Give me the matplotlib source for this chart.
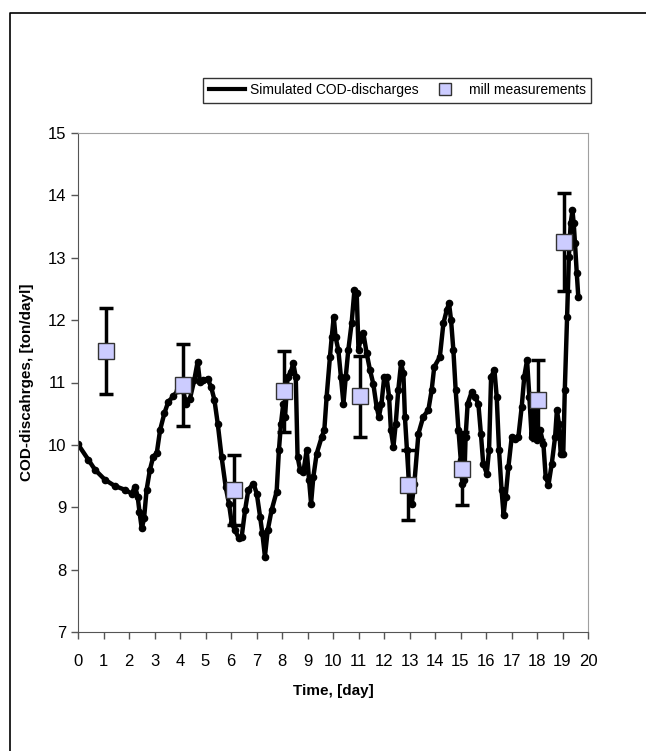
import matplotlib
matplotlib.use("Agg")
import matplotlib.pyplot as plt
from matplotlib.lines import Line2D

plt.rcParams["font.family"] = ["Liberation Sans", "DejaVu Sans"]

# simulated COD discharge (day, ton/day)
sim_t = [0.0, 0.41, 0.67, 1.06, 1.45, 1.84, 2.10, 2.24, 2.34, 2.41, 2.50, 2.59, 2.69, 2.82, 2.95,
         3.09, 3.22, 3.39, 3.54, 3.74, 3.93, 4.09, 4.24, 4.39, 4.56, 4.69, 4.78, 4.92, 5.08, 5.22,
         5.35, 5.48, 5.63, 5.79, 5.92, 6.03, 6.16, 6.31, 6.42, 6.55, 6.68, 6.88, 7.01, 7.14, 7.23,
         7.33, 7.44, 7.59, 7.79, 7.88, 7.96, 8.05, 8.12, 8.22, 8.35, 8.44, 8.54, 8.61, 8.71, 8.84,
         8.97, 9.06, 9.14, 9.23, 9.36, 9.56, 9.66, 9.75, 9.88, 9.95, 10.03, 10.10, 10.21, 10.31,
         10.41, 10.50, 10.60, 10.73, 10.84, 10.93, 11.00, 11.07, 11.19, 11.32, 11.45, 11.58, 11.71,
         11.80, 11.90, 12.01, 12.10, 12.20, 12.27, 12.37, 12.46, 12.56, 12.67, 12.76, 12.82, 12.90,
         12.98, 13.09, 13.19, 13.35, 13.54, 13.74, 13.87, 13.97, 14.19, 14.33, 14.46, 14.55, 14.63,
         14.72, 14.81, 14.92, 15.01, 15.07, 15.15, 15.20, 15.28, 15.44, 15.57, 15.70, 15.80, 15.89,
         16.03, 16.12, 16.20, 16.33, 16.42, 16.51, 16.61, 16.69, 16.77, 16.88, 17.01, 17.14, 17.27,
         17.40, 17.50, 17.61, 17.70, 17.79, 17.90, 17.99, 18.12, 18.25, 18.34, 18.45, 18.58, 18.71,
         18.78, 18.86, 18.93, 19.03, 19.09, 19.18, 19.25, 19.32, 19.39, 19.44, 19.49, 19.56, 19.62]
sim_cod = [10.01, 9.76, 9.60, 9.44, 9.34, 9.28, 9.22, 9.33, 9.17, 8.93, 8.66, 8.82, 9.28, 9.60, 9.81,
           9.87, 10.24, 10.51, 10.69, 10.78, 10.88, 10.93, 10.66, 10.74, 11.04, 11.33, 11.01, 11.04,
           11.06, 10.93, 10.72, 10.34, 9.81, 9.33, 9.06, 8.74, 8.63, 8.50, 8.53, 8.95, 9.28, 9.38,
           9.22, 8.85, 8.58, 8.21, 8.63, 8.95, 9.25, 9.92, 10.34, 10.66, 10.45, 11.09, 11.17, 11.31,
           11.09, 9.81, 9.60, 9.57, 9.92, 9.44, 9.06, 9.49, 9.86, 10.13, 10.24, 10.77, 11.41, 11.73,
           12.05, 11.73, 11.52, 11.09, 10.66, 11.09, 11.52, 11.95, 12.48, 12.43, 11.52, 11.68, 11.79,
           11.47, 11.20, 10.98, 10.61, 10.45, 10.66, 11.09, 11.09, 10.77, 10.24, 9.97, 10.34, 10.88,
           11.31, 11.15, 10.45, 9.92, 9.38, 9.06, 9.38, 10.18, 10.45, 10.56, 10.88, 11.25, 11.41,
           11.95, 12.16, 12.27, 12.00, 11.52, 10.88, 10.24, 9.76, 9.38, 9.44, 10.13, 10.66, 10.85,
           10.77, 10.66, 10.18, 9.70, 9.54, 9.92, 11.09, 11.20, 10.77, 9.92, 9.28, 8.88, 9.17, 9.65,
           10.13, 10.10, 10.13, 10.61, 11.09, 11.36, 10.77, 10.13, 10.56, 10.08, 10.24, 10.02, 9.49,
           9.36, 9.70, 10.13, 10.56, 10.34, 9.86, 9.86, 10.88, 12.05, 13.02, 13.55, 13.76, 13.55,
           13.23, 12.75, 12.37]

# mill measurements with error bars
meas_t = [1.08, 4.10, 6.10, 8.07, 11.06, 12.95, 15.07, 18.05, 19.07]
meas_cod = [11.50, 10.96, 9.28, 10.86, 10.78, 9.36, 9.62, 10.72, 13.25]
meas_err = [0.69, 0.66, 0.56, 0.65, 0.65, 0.56, 0.58, 0.64, 0.79]

x_ticks = list(range(0, 21))
y_ticks = list(range(7, 16))

fig = plt.figure(figsize=(6.46, 7.51), dpi=100)
ax = fig.add_axes([78 / 646, 1 - 632 / 751, 510 / 646, 499 / 751])

ax.plot(sim_t, sim_cod, color="black", lw=3.2, marker="o", ms=4.5,
        solid_joinstyle="round", zorder=2)
ax.errorbar(meas_t, meas_cod, yerr=meas_err, fmt="none", ecolor="black",
            elinewidth=2.5, capsize=5, capthick=2.5, zorder=3)
ax.plot(meas_t, meas_cod, ls="none", marker="s", ms=11, mfc="#ccccff",
        mec="#333333", mew=1, zorder=4)

ax.set_xlim(0, 20)
ax.set_ylim(7, 15)
ax.set_xticks(x_ticks)
ax.set_yticks(y_ticks)
ax.tick_params(labelsize=12, length=5, width=1, color="#555555", direction="out")
ax.tick_params(axis="x", pad=11)
ax.spines["left"].set_color("#555555")
ax.spines["bottom"].set_color("#555555")
ax.spines["right"].set_color("#a0a0a0")
ax.spines["top"].set_color("#a0a0a0")

ax.set_xlabel("Time, [day]", fontsize=11, fontweight="bold", labelpad=11)
ax.set_ylabel("COD-discahrges, [ton/dayl]", fontsize=11, fontweight="bold", labelpad=10)

handles = [
    Line2D([], [], color="black", lw=3),
    Line2D([], [], ls="none", marker="s", ms=8, mfc="#ccccff", mec="#333333", mew=1),
]
leg = fig.legend(handles, ["Simulated COD-discharges", "mill measurements"],
                 loc="center", bbox_to_anchor=(0.615, 0.880), ncol=2, fontsize=10,
                 frameon=True, fancybox=False, handlelength=2.6, handletextpad=0.4,
                 columnspacing=0.6, borderpad=0.4)
leg.get_frame().set_edgecolor("black")
leg.get_frame().set_linewidth(1)

# outer chart frame (left and top edges visible)
fx = 9.5 / 646
fy = 1 - 12.5 / 751
fig.add_artist(Line2D([fx, fx, 1.0], [0.0, fy, fy], transform=fig.transFigure,
                      color="black", lw=1.2))

fig.savefig("out.png", dpi=100)
